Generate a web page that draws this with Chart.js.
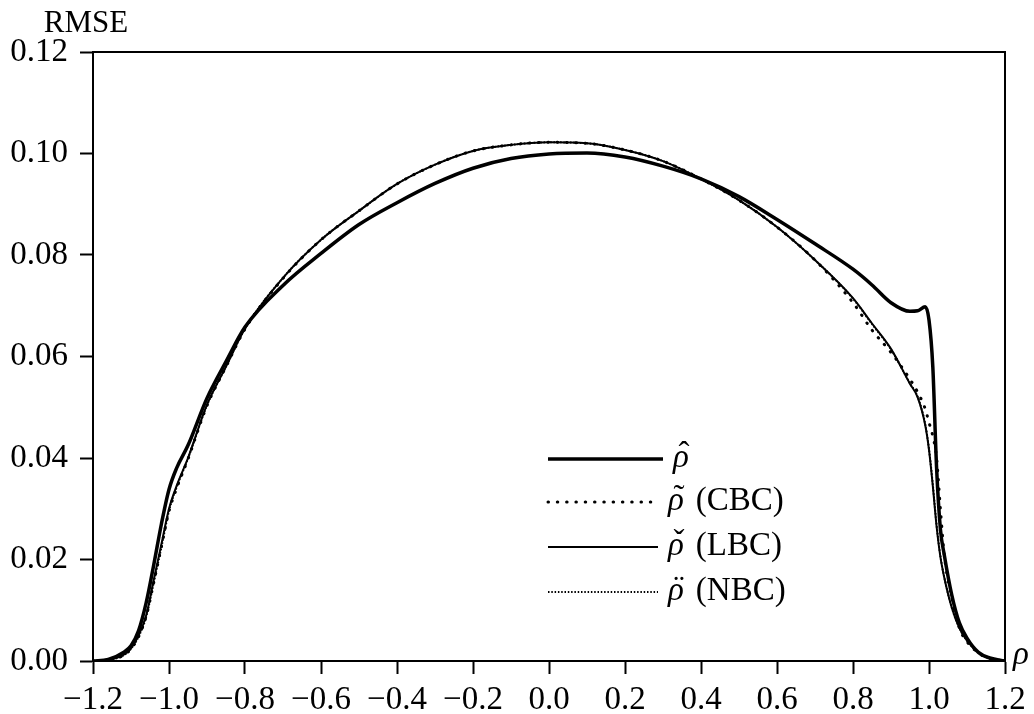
<!DOCTYPE html>
<html>
<head>
<meta charset="utf-8">
<script src="https://cdn.jsdelivr.net/npm/chart.js@4.4.1/dist/chart.umd.min.js"></script>
<style>
  html, body { margin: 0; padding: 0; background: #fff; }
  #wrap { width: 1034px; height: 714px; position: relative; }
</style>
</head>
<body>
<div id="wrap"><canvas id="rmseChart"></canvas></div>
<script>
// --- data ---
const rho = [-1.2, -1.16, -1.12, -1.1, -1.08, -1.06, -1.04, -1.02, -1.0, -0.98, -0.95, -0.9, -0.85, -0.8,
  -0.7, -0.6, -0.5, -0.4, -0.3, -0.2, -0.1, 0, 0.1, 0.2, 0.3, 0.4, 0.5, 0.6, 0.7, 0.8, 0.85, 0.9,
  0.95, 0.97, 0.99, 1.0, 1.01, 1.02, 1.03, 1.04, 1.06, 1.08, 1.1, 1.13, 1.16, 1.2];

const rmseHat = [0, 0.0003, 0.0017, 0.003, 0.006, 0.0115, 0.019, 0.027, 0.0338, 0.038, 0.0425, 0.0518, 0.059, 0.0658,
  0.074, 0.0803, 0.086, 0.0903, 0.0941, 0.0971, 0.0990, 0.0999, 0.1001, 0.0993, 0.0975, 0.095, 0.0915, 0.087, 0.0822, 0.0772, 0.0741, 0.0706,
  0.0689, 0.069, 0.0698, 0.0672, 0.058, 0.038, 0.026, 0.021, 0.013, 0.0075, 0.0045, 0.0017, 0.0006, 0];

const rmseCBC = [0, 0.0002, 0.0011, 0.0024, 0.0048, 0.0088, 0.0155, 0.0225, 0.0295, 0.034, 0.0398, 0.0503, 0.058, 0.0654,
  0.0754, 0.083, 0.0887, 0.094, 0.0978, 0.1005, 0.1017, 0.1022, 0.102, 0.1007, 0.0985, 0.095, 0.0908, 0.0855, 0.079, 0.0706, 0.0652, 0.0608,
  0.0555, 0.053, 0.0497, 0.047, 0.0443, 0.040, 0.030, 0.021, 0.0125, 0.0065, 0.0038, 0.0016, 0.0005, 0];

const rmseLBC = [0, 0.0002, 0.0012, 0.0025, 0.005, 0.009, 0.016, 0.023, 0.030, 0.0345, 0.040, 0.0505, 0.058, 0.0655,
  0.0755, 0.083, 0.0887, 0.094, 0.0978, 0.1005, 0.1017, 0.1022, 0.102, 0.1007, 0.0985, 0.095, 0.0908, 0.0855, 0.079, 0.0715, 0.0665, 0.0615,
  0.0546, 0.052, 0.0465, 0.0416, 0.0345, 0.0265, 0.0205, 0.0165, 0.0105, 0.0065, 0.004, 0.0017, 0.0005, 0];

const rmseNBC = [0, 0.0002, 0.0011, 0.0024, 0.0048, 0.0087, 0.0155, 0.0224, 0.0296, 0.0342, 0.0399, 0.0504, 0.058, 0.0655,
  0.0755, 0.083, 0.0887, 0.094, 0.0978, 0.1005, 0.1017, 0.1022, 0.102, 0.1007, 0.0985, 0.095, 0.0908, 0.0855, 0.079, 0.0714, 0.0664, 0.0614,
  0.0547, 0.0521, 0.0467, 0.0418, 0.0348, 0.0268, 0.0207, 0.0166, 0.0105, 0.0065, 0.004, 0.0017, 0.0005, 0];

const xTicks = [-1.2, -1.0, -0.8, -0.6, -0.4, -0.2, 0.0, 0.2, 0.4, 0.6, 0.8, 1.0, 1.2];
const yTicks = [0, 0.02, 0.04, 0.06, 0.08, 0.10, 0.12];

// accent drawn over an italic rho, then the tag
const legendAccents = ['\u02C6', '\u02DC', '\u02C7', '\u00A8'];
const legendTags = ['', '(CBC)', '(LBC)', '(NBC)'];

const serif = "'Liberation Serif', 'DejaVu Serif', serif";

function pts(ys) { return rho.map((x, i) => ({ x: x, y: ys[i] })); }

// frame on top/right, axis labels and the in-plot legend
const decorPlugin = {
  id: 'decor',
  afterDraw(chart) {
    const { ctx, chartArea: a } = chart;
    ctx.save();
    ctx.strokeStyle = '#000';
    ctx.lineWidth = 2;
    ctx.beginPath();
    ctx.moveTo(a.left, a.top);
    ctx.lineTo(a.right, a.top);
    ctx.lineTo(a.right, a.bottom);
    ctx.stroke();

    ctx.fillStyle = '#000';
    ctx.font = '31px ' + serif;
    ctx.textAlign = 'center';
    ctx.textBaseline = 'alphabetic';
    ctx.fillText('RMSE', 86, 32);
    ctx.font = 'italic 33px ' + serif;
    ctx.textAlign = 'left';
    ctx.fillText('ρ', 1013, 664);

    // legend
    const x0 = 548, rowY = [459, 502, 547, 592];
    chart.data.datasets.forEach((ds, i) => {
      const y = rowY[i];
      ctx.save();
      ctx.lineWidth = ds.borderWidth;
      ctx.setLineDash(ds.borderDash || []);
      ctx.lineCap = ds.borderCapStyle || 'butt';
      ctx.beginPath();
      ctx.moveTo(x0, y);
      ctx.lineTo(i === 0 ? 663 : 658, y);
      ctx.stroke();
      ctx.restore();
      let tx = i === 0 ? 673 : 668;
      const base = y + 8;
      ctx.textAlign = 'left';
      ctx.textBaseline = 'alphabetic';
      ctx.font = 'italic 33px ' + serif;
      ctx.fillText('ρ', tx, base);
      const w = ctx.measureText('ρ').width;
      ctx.font = '33px ' + serif;
      ctx.textAlign = 'center';
      ctx.fillText(legendAccents[i], tx + w / 2 + 3, base - 2);
      ctx.textAlign = 'left';
      ctx.fillText(legendTags[i], tx + w + 12, base);
    });
    ctx.restore();
  }
};

new Chart(document.getElementById('rmseChart'), {
  type: 'line',
  data: {
    datasets: [
      { label: 'ρ̂', data: pts(rmseHat), borderColor: '#000', borderWidth: 3.5, pointRadius: 0, cubicInterpolationMode: 'monotone' },
      { label: 'ρ̃ (CBC)', data: pts(rmseCBC), borderColor: '#000', borderWidth: 3, borderDash: [0.5, 8.8], borderCapStyle: 'round', pointRadius: 0, cubicInterpolationMode: 'monotone' },
      { label: 'ρ̌ (LBC)', data: pts(rmseLBC), borderColor: '#000', borderWidth: 2, pointRadius: 0, cubicInterpolationMode: 'monotone' },
      { label: 'ρ̈ (NBC)', data: pts(rmseNBC), borderColor: '#000', borderWidth: 2, borderDash: [1.5, 1.8], pointRadius: 0, cubicInterpolationMode: 'monotone' }
    ]
  },
  options: {
    responsive: true,
    maintainAspectRatio: false,
    animation: false,
    layout: { padding: { left: 0, top: 52, right: 29, bottom: 0 } },
    plugins: { legend: { display: false }, tooltip: { enabled: false } },
    scales: {
      x: {
        type: 'linear', min: -1.2, max: 1.2,
        afterFit: s => { s.height = 53; },
        afterBuildTicks: s => { s.ticks = xTicks.map(v => ({ value: v })); },
        border: { display: true, color: '#000', width: 2 },
        grid: { drawOnChartArea: false, drawTicks: true, tickLength: 13, tickColor: '#000', tickWidth: 2 },
        ticks: {
          color: '#000', padding: 7, maxRotation: 0, autoSkip: false,
          font: { family: serif, size: 33 },
          callback: v => v.toFixed(1).replace('-', '\u2212')
        }
      },
      y: {
        type: 'linear', min: 0, max: 0.12,
        afterFit: s => { s.width = 93; },
        afterBuildTicks: s => { s.ticks = yTicks.map(v => ({ value: v })); },
        border: { display: true, color: '#000', width: 2 },
        grid: { drawOnChartArea: false, drawTicks: true, tickLength: 13, tickColor: '#000', tickWidth: 2 },
        ticks: {
          color: '#000', padding: 12, autoSkip: false,
          font: { family: serif, size: 33 },
          callback: v => v.toFixed(2)
        }
      }
    }
  },
  plugins: [decorPlugin]
});
</script>
</body>
</html>
